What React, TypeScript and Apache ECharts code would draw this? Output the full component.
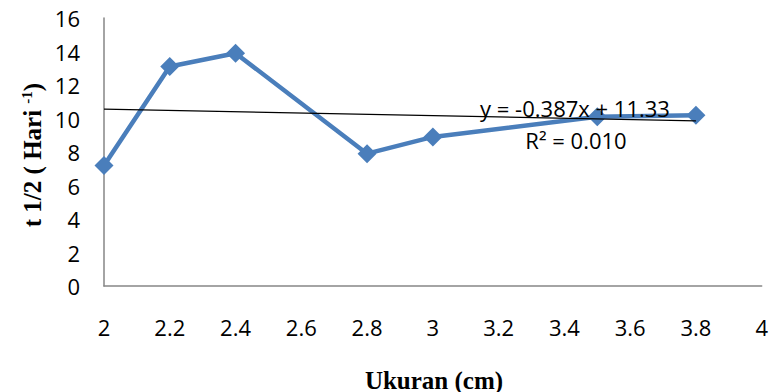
import React, { useEffect, useRef } from "react";
import * as echarts from "echarts";

const xValues = [2, 2.2, 2.4, 2.8, 3, 3.5, 3.8];
const yValues = [7.2, 13.1, 13.9, 7.9, 8.9, 10.1, 10.2];
const slope = -0.387;
const intercept = 11.33;
const trendX = [2, 3.8];
const equationText = "y = -0.387x + 11.33";
const r2Text = "R² = 0.010";

export default function App() {
  const ref = useRef<HTMLDivElement>(null);
  useEffect(() => {
    if (!ref.current) return;
    const chart = echarts.init(ref.current, undefined, { renderer: "svg" });
    const font = "Open Sans";
    const serif = "Liberation Serif";
    chart.setOption({
      animation: false,
      grid: { left: 104, right: 7, top: 18, bottom: 106, containLabel: false },
      xAxis: {
        type: "value",
        min: 2,
        max: 4,
        interval: 0.2,
        axisLine: { show: true, lineStyle: { color: "#868686", width: 1.5 } },
        axisTick: { show: false },
        splitLine: { show: false },
        axisLabel: {
          margin: 30,
          color: "#000",
          fontSize: 22,
          fontFamily: font,
          formatter: (v: number) => String(Math.round(v * 10) / 10),
        },
      },
      yAxis: {
        type: "value",
        min: 0,
        max: 16,
        interval: 2,
        axisLine: { show: true, lineStyle: { color: "#868686", width: 1.5 } },
        axisTick: { show: false },
        splitLine: { show: false },
        axisLabel: { margin: 24, color: "#000", fontSize: 22, fontFamily: font },
      },
      series: [
        {
          type: "line",
          data: xValues.map((x, i) => [x, yValues[i]]),
          lineStyle: { color: "#4A7EBB", width: 4.5 },
          itemStyle: { color: "#4A7EBB" },
          symbol: "diamond",
          symbolSize: 19,
          z: 3,
        },
        {
          type: "line",
          data: trendX.map((x) => [x, slope * x + intercept]),
          lineStyle: { color: "#000", width: 1.3 },
          symbol: "none",
          z: 4,
        },
      ],
      graphic: [
        {
          type: "text",
          x: 575,
          y: 108,
          z: 10,
          style: {
            text: equationText,
            fontSize: 22,
            fontFamily: font,
            fill: "#000",
            align: "center",
            verticalAlign: "middle",
          },
        },
        {
          type: "text",
          x: 576,
          y: 140,
          z: 10,
          style: {
            text: r2Text,
            fontSize: 22,
            fontFamily: font,
            fill: "#000",
            align: "center",
            verticalAlign: "middle",
          },
        },
        {
          type: "text",
          x: 434,
          y: 380,
          style: {
            text: "Ukuran (cm)",
            fontSize: 25,
            fontWeight: "bold",
            fontFamily: serif,
            fill: "#000",
            align: "center",
            verticalAlign: "middle",
          },
        },
        {
          type: "text",
          x: 32,
          y: 155,
          rotation: Math.PI / 2,
          style: {
            text: "{n|t 1/2 ( Hari }{s|-1}{n|)}",
            align: "center",
            verticalAlign: "middle",
            rich: {
              n: {
                fontSize: 25,
                fontWeight: "bold",
                fontFamily: serif,
                fill: "#000",
                verticalAlign: "bottom",
              },
              s: {
                fontSize: 15,
                fontWeight: "bold",
                fontFamily: serif,
                fill: "#000",
                verticalAlign: "top",
                padding: [0, 0, 10, 0],
              },
            },
          },
        },
      ],
    });
    return () => chart.dispose();
  }, []);
  return (
    <div
      ref={ref}
      style={{ position: "absolute", left: 0, top: 0, width: 771, height: 392 }}
    />
  );
}
